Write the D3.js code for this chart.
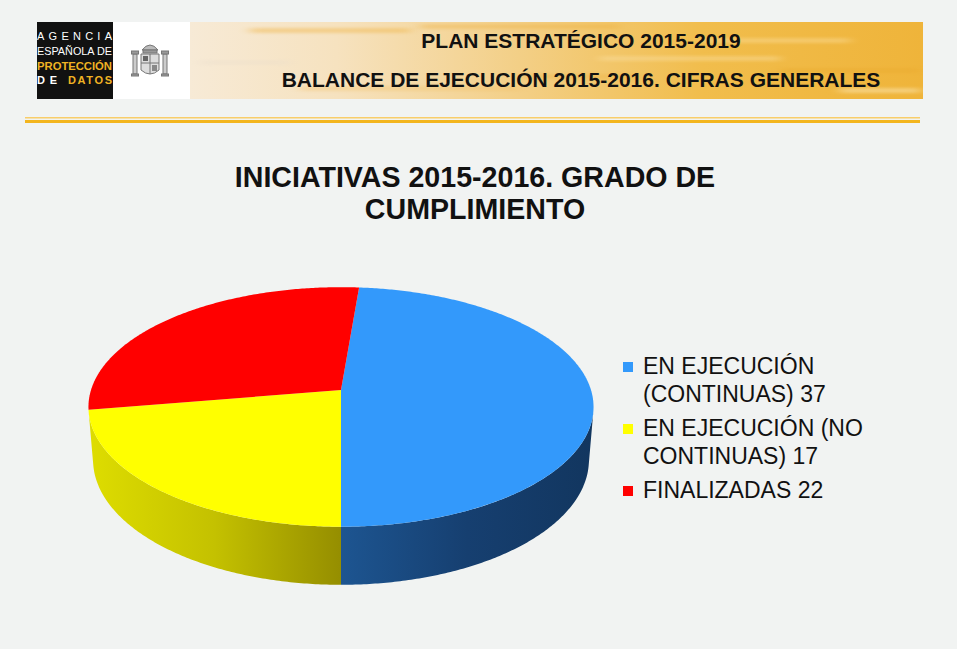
<!DOCTYPE html>
<html lang="es">
<head>
<meta charset="UTF-8">
<title>Iniciativas 2015-2016. Grado de cumplimiento</title>
<script src="https://d3js.org/d3.v7.min.js"></script>
<style>
    html, body { margin: 0; padding: 0; background: #f1f3f2; }
    svg { display: block; }
    text { font-family: "Liberation Sans", Arial, Helvetica, sans-serif; }
</style>
</head>
<body>
<svg id="chart" width="957" height="649"></svg>
<script>
// chart data
const categories = ["EN EJECUCIÓN (CONTINUAS)", "EN EJECUCIÓN (NO CONTINUAS)", "FINALIZADAS"];
const values = [37, 17, 22];
const colors = ["#3399fb", "#ffff00", "#ff0000"];
// darker tones for the side of the 3D pie (left -> right)
const sideColors = [["#1d5591", "#163f70", "#12365f"], ["#dedd00", "#c4c100", "#958e00"], ["#c00000", "#a00000", "#800000"]];
const chartTitle = ["INICIATIVAS 2015-2016. GRADO DE", "CUMPLIMIENTO"];
const headerLines = ["PLAN ESTRATÉGICO 2015-2019", "BALANCE DE EJECUCIÓN 2015-2016. CIFRAS GENERALES"];

const svg = d3.select("#chart");
const defs = svg.append("defs");

svg.append("rect").attr("width", 957).attr("height", 649).attr("fill", "#f1f3f2");

// ---------- header ----------
const banner = defs.append("linearGradient").attr("id", "banner");
[[0, "#f7ead6"], [0.2, "#f6e2bf"], [0.45, "#f3cf86"], [0.7, "#f1bd4c"], [1, "#efb43a"]].forEach(s =>
    banner.append("stop").attr("offset", s[0]).attr("stop-color", s[1]));
defs.append("filter").attr("id", "soft").attr("x", "-20%").attr("y", "-200%").attr("width", "140%").attr("height", "500%")
    .append("feGaussianBlur").attr("stdDeviation", "6 1.5");
defs.append("clipPath").attr("id", "bannerClip")
    .append("rect").attr("x", 190).attr("y", 22).attr("width", 733).attr("height", 77);

svg.append("rect").attr("x", 190).attr("y", 22).attr("width", 733).attr("height", 77).attr("fill", "url(#banner)");

// soft streaks so the banner looks brushed
const streaks = [[250, 28, 160, 0.45, "#f0b648"], [420, 24, 200, 0.35, "#ecad3a"], [600, 56, 180, 0.4, "#fbe2a8"],
    [700, 38, 150, 0.45, "#fbdc98"], [780, 68, 140, 0.4, "#e9a92e"], [300, 86, 220, 0.35, "#f2c066"], [840, 88, 80, 0.5, "#fbe6b2"],
    [520, 74, 120, 0.35, "#edb040"], [200, 60, 90, 0.3, "#e8dccb"]];
const streakG = svg.append("g").attr("clip-path", "url(#bannerClip)");
streaks.forEach(s => streakG.append("rect").attr("x", s[0]).attr("y", s[1]).attr("width", s[2]).attr("height", 5)
    .attr("fill", s[4]).attr("opacity", s[3]).attr("filter", "url(#soft)"));

svg.selectAll(".head")
    .data(headerLines)
    .enter().append("text")
    .attr("x", 581)
    .attr("y", (d, i) => 48 + i * 39)
    .attr("text-anchor", "middle")
    .attr("font-size", 21)
    .attr("font-weight", "bold")
    .attr("fill", "#111")
    .text(d => d);

// logo
svg.append("rect").attr("x", 37).attr("y", 22).attr("width", 76).attr("height", 77).attr("fill", "#111");
svg.append("rect").attr("x", 113).attr("y", 22).attr("width", 77).attr("height", 77).attr("fill", "#fff");
const logoTxt = [["AGENCIA", 39.5, "#fff", "normal", "spacing"], ["ESPAÑOLA DE", 55, "#fff", "normal", "spacingAndGlyphs"],
    ["PROTECCIÓN", 69.5, "#f0b323", "bold", "spacingAndGlyphs"]];
logoTxt.forEach(t => svg.append("text").attr("x", 37).attr("y", t[1]).attr("font-size", 11)
    .attr("fill", t[2]).attr("font-weight", t[3]).attr("textLength", 75).attr("lengthAdjust", t[4]).text(t[0]));
svg.append("text").attr("x", 37).attr("y", 83.5).attr("font-size", 11).attr("font-weight", "bold").attr("fill", "#fff")
    .attr("textLength", 20).attr("lengthAdjust", "spacing").text("DE");
svg.append("text").attr("x", 68).attr("y", 83.5).attr("font-size", 11).attr("font-weight", "bold").attr("fill", "#f0b323")
    .attr("textLength", 44).attr("lengthAdjust", "spacing").text("DATOS");

// simplified coat of arms
const arms = svg.append("g").attr("fill", "none").attr("stroke", "#777").attr("stroke-width", 1);
arms.append("path").attr("d", "M142,50 Q150,40 158,50 Z").attr("fill", "#bbb");
arms.append("rect").attr("x", 143).attr("y", 50).attr("width", 14).attr("height", 3).attr("fill", "#999");
arms.append("path").attr("d", "M141,54 L159,54 L159,70 Q150,78 141,70 Z").attr("fill", "#ddd");
arms.append("line").attr("x1", 150).attr("y1", 54).attr("x2", 150).attr("y2", 74);
arms.append("line").attr("x1", 141).attr("y1", 63).attr("x2", 159).attr("y2", 63);
arms.append("rect").attr("x", 143).attr("y", 56).attr("width", 5).attr("height", 5).attr("fill", "#666").attr("stroke", "none");
arms.append("rect").attr("x", 152).attr("y", 65).attr("width", 5).attr("height", 6).attr("fill", "#888").attr("stroke", "none");
[133, 163].forEach(x => {
    arms.append("rect").attr("x", x).attr("y", 54).attr("width", 4).attr("height", 20).attr("fill", "#ccc");
    arms.append("rect").attr("x", x - 1.5).attr("y", 51).attr("width", 7).attr("height", 3).attr("fill", "#999");
    arms.append("rect").attr("x", x - 1.5).attr("y", 74).attr("width", 7).attr("height", 2).attr("fill", "#999");
});

// rule under header
svg.append("rect").attr("x", 25).attr("y", 117).attr("width", 895).attr("height", 1.5).attr("fill", "#f8cd6a");
svg.append("rect").attr("x", 25).attr("y", 120).attr("width", 895).attr("height", 3).attr("fill", "#f3b51e");

// ---------- title ----------
svg.selectAll(".title")
    .data(chartTitle)
    .enter().append("text")
    .attr("x", 475)
    .attr("y", (d, i) => 187 + i * 32)
    .attr("text-anchor", "middle")
    .attr("font-size", 28.6)
    .attr("font-weight", "bold")
    .attr("fill", "#111")
    .text(d => d);

// ---------- 3D pie ----------
const total = d3.sum(values);
const firstAngle = Math.PI - 2 * Math.PI * values[0] / total; // first slice ends at the front
const pie = d3.pie().sort(null).startAngle(firstAngle).endAngle(firstAngle + 2 * Math.PI);
const arcs = pie(values);

// perspective view of a disk of radius 1
const elev = 28 * Math.PI / 180, camDist = 6.24, thick = 0.242;
const cx = 341, cy = 390;
const xScale = d3.scaleLinear().domain([-1, 1]).range([cx - 250, cx + 250]);
const yScale = d3.scaleLinear().domain([-1, 1]).range([cy + 250, cy - 250]);

function project(a, h) {
    const X = Math.sin(a), Z = -Math.cos(a);
    const up = h * Math.cos(elev) - Z * Math.sin(elev);
    const toward = h * Math.sin(elev) + Z * Math.cos(elev);
    const k = camDist / (camDist - toward);
    return [xScale(X * k), yScale(up * k)];
}

function arcPoints(a0, a1, h) {
    const n = Math.max(2, Math.ceil(Math.abs(a1 - a0) / 0.01));
    return d3.range(n + 1).map(i => project(a0 + (a1 - a0) * i / n, h));
}

const line = d3.line().curve(d3.curveLinearClosed);

// visible part of the outer wall
const limit = Math.acos(-1 / (camDist * Math.cos(elev)));
const visLo = limit, visHi = 2 * Math.PI - limit;

const pieG = svg.append("g");

arcs.forEach((d, i) => {
    const a0 = Math.max(d.startAngle, visLo), a1 = Math.min(d.endAngle, visHi);
    if (a1 <= a0) return;
    const pts = arcPoints(a0, a1, 0).concat(arcPoints(a1, a0, -thick));
    const xs = d3.extent(pts, p => p[0]);
    const g = defs.append("linearGradient").attr("id", "side" + i)
        .attr("gradientUnits", "userSpaceOnUse")
        .attr("x1", xs[0]).attr("x2", xs[1]).attr("y1", 0).attr("y2", 0);
    sideColors[i].forEach((c, j) => g.append("stop").attr("offset", j / (sideColors[i].length - 1)).attr("stop-color", c));
    pieG.append("path").attr("d", line(pts)).attr("fill", "url(#side" + i + ")");
});

arcs.forEach((d, i) => {
    const pts = [[cx, cy]].concat(arcPoints(d.startAngle, d.endAngle, 0));
    pieG.append("path").attr("d", line(pts)).attr("fill", colors[i]);
});

// ---------- legend ----------
const legend = svg.append("g");
let baseY = 374;
categories.forEach((c, i) => {
    const words = (c + " " + values[i]).split(" ");
    const lines = [];
    let cur = "";
    const probe = legend.append("text").attr("font-size", 23);
    words.forEach(w => {
        const next = cur ? cur + " " + w : w;
        probe.text(next);
        if (cur && probe.node().getComputedTextLength() > 245) { lines.push(cur); cur = w; }
        else cur = next;
    });
    lines.push(cur);
    probe.remove();

    legend.append("rect").attr("x", 623).attr("y", baseY - 12).attr("width", 10).attr("height", 10).attr("fill", colors[i]);
    lines.forEach((l, j) => legend.append("text")
        .attr("x", 643).attr("y", baseY + j * 28)
        .attr("font-size", 23).attr("fill", "#111").text(l));
    baseY += lines.length * 28 + 6;
});
</script>
</body>
</html>
